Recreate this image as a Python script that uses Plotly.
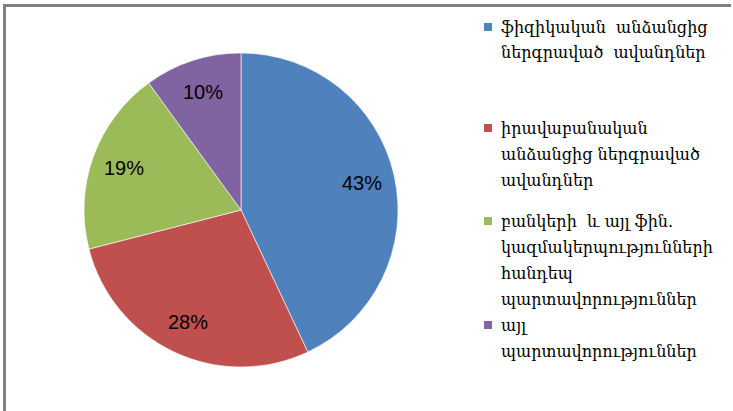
import math
import plotly.graph_objects as go

W, H = 733, 411

categories = [
    "ֆիզիկական  անձանցից\nներգրաված  ավանդներ",
    "իրավաբանական\nանձանցից ներգրաված\nավանդներ",
    "բանկերի  և այլ ֆին.\nկազմակերպությունների\nհանդեպ\nպարտավորություններ",
    "այլ\nպարտավորություններ",
]
values = [43, 28, 19, 10]
colors = ["#4F81BD", "#C0504D", "#9BBB59", "#8064A2"]

# layout (pixels)
cx, cy, r = 241, 210, 157
legend_top_y = [27, 128, 221, 325]
line_gap = 26
square_x = 488
text_x = 499

fig = go.Figure()
fig.add_trace(go.Pie(
    labels=[c.replace("\n", " ") for c in categories],
    values=values,
    sort=False,
    direction="clockwise",
    rotation=0,
    marker=dict(colors=colors, line=dict(color="rgba(255,255,255,0.6)", width=1)),
    textinfo="none",
    hoverinfo="label+percent",
    showlegend=False,
    domain=dict(x=[(cx - r) / W, (cx + r) / W], y=[1 - (cy + r) / H, 1 - (cy - r) / H]),
))

annotations = []
total = sum(values)
cum = 0
for v in values:
    mid = (cum + v / 2) / total * 2 * math.pi
    cum += v
    k = 0.79
    px = cx + k * r * math.sin(mid)
    py = cy - k * r * math.cos(mid)
    annotations.append(dict(
        x=px / W, y=1 - py / H, xref="paper", yref="paper",
        text=f"{round(v / total * 100)}%", showarrow=False,
        xanchor="center", yanchor="middle",
        font=dict(family="Liberation Sans", size=20, color="#000000"),
    ))

shapes = []
for cat, col, y0 in zip(categories, colors, legend_top_y):
    shapes.append(dict(type="rect", xref="paper", yref="paper",
                       x0=(square_x - 4) / W, x1=(square_x + 4) / W,
                       y0=1 - (y0 + 4) / H, y1=1 - (y0 - 4) / H,
                       fillcolor=col, line=dict(width=0)))
    for i, line in enumerate(cat.split("\n")):
        annotations.append(dict(
            x=text_x / W, y=1 - (y0 + i * line_gap) / H, xref="paper", yref="paper",
            text=line, showarrow=False, xanchor="left", yanchor="middle",
            font=dict(family="DejaVu Serif", size=16, color="#000000"),
        ))

# outer frame (top and left edges visible)
shapes.append(dict(type="rect", xref="paper", yref="paper",
                   x0=3 / W, x1=731 / W, y0=1 - 7 / H, y1=1 - 4 / H,
                   fillcolor="#808080", line=dict(width=0)))
shapes.append(dict(type="rect", xref="paper", yref="paper",
                   x0=3 / W, x1=6 / W, y0=0, y1=1 - 4 / H,
                   fillcolor="#808080", line=dict(width=0)))

fig.update_layout(
    width=W, height=H,
    margin=dict(l=0, r=0, t=0, b=0),
    paper_bgcolor="white", plot_bgcolor="white",
    annotations=annotations, shapes=shapes,
)

fig.write_html("out.html", config={"displayModeBar": False},
               post_script="document.body.style.margin='0';")
